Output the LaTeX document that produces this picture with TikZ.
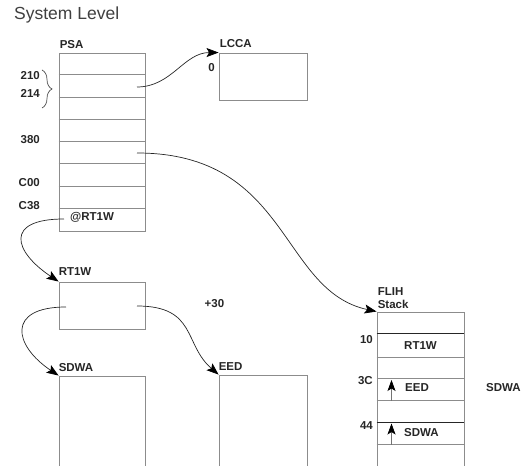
\documentclass[tikz,border=0pt]{standalone}
\usepackage{fontspec}
\setmainfont{Liberation Sans}
\usetikzlibrary{positioning, arrows.meta, decorations.pathreplacing}
\definecolor{rulegray}{RGB}{140,140,140}
\newcommand{\lblfont}{\fontsize{11.5}{13}\selectfont\bfseries}
\tikzset{
    memarea/.style={draw=rulegray, line width=0.9pt, inner sep=0pt, minimum width=86pt},
    memrule/.style={draw=rulegray, line width=0.9pt},
    darkrule/.style={draw=black!85, line width=0.9pt},
    lbl/.style={font=\lblfont, text=black!85, inner sep=0pt},
    ptr/.style={draw=black!85, line width=0.7pt, -{Stealth[length=12pt, width=9pt, inset=2.5pt, color=black]}},
    uparrow/.style={draw=black!55, line width=0.7pt, -{Stealth[length=11pt, width=8pt, inset=2.5pt, color=black]}}
}

\begin{document}
\begin{tikzpicture}[x=1pt, y=1pt]
    \clip (0,0) rectangle (523,466);
    % title
    \node[anchor=base west, inner sep=0pt, font=\fontsize{17.5}{20}\selectfont, text=black!75] (title) at (14,446.5) {System Level};

    % PSA
    \node[memarea, minimum height=178pt] (psa) at (102,324) {};
    \foreach \k in {1,...,7}
        \draw[memrule] ([yshift=-\k*22.25pt]psa.north west) -- ([yshift=-\k*22.25pt]psa.north east);
    \node[lbl, above right=4pt and 1pt of psa.north west] (psaname) {PSA};
    \node[lbl, anchor=east] (off210) at (40,390) {210};
    \node[lbl, anchor=east] (off214) at (40,373) {214};
    \node[lbl, anchor=east] (off380) at (40,326) {380};
    \node[lbl, anchor=east] (offC00) at (40,283) {C00};
    \node[lbl, anchor=east] (offC38) at (40,260) {C38};
    \node[lbl, anchor=west] (atrt1w) at (70,248.5) {@RT1W};
    \draw[draw=black!70, line width=0.7pt, decorate, decoration={brace, amplitude=10pt}] (42,396) -- (42,358);

    % LCCA
    \node[memarea, minimum width=88pt, minimum height=47pt] (lcca) at (263,389.5) {};
    \node[lbl, above right=5pt and 1pt of lcca.north west] (lccaname) {LCCA};
    \node[lbl, anchor=east] (off0) at (215,398.5) {0};

    % RT1W
    \node[memarea, minimum height=47pt] (rt1w) at (102,160.5) {};
    \node[lbl, above right=6pt and 0pt of rt1w.north west] (rt1wname) {RT1W};
    \node[lbl] (plus30) at (214.5,162) {+30};

    % SDWA and EED, open at the bottom
    \node[memarea, minimum height=100pt] (sdwa) at (102,40) {};
    \node[lbl, above right=4pt and 0pt of sdwa.north west] (sdwaname) {SDWA};
    \node[memarea, minimum width=88pt, minimum height=100pt] (eed) at (263,41) {};
    \node[lbl, above right=4pt and 0pt of eed.north west] (eedname) {EED};

    % FLIH stack
    \node[memarea, minimum width=87pt, minimum height=164pt] (flih) at (420.5,72) {};
    \foreach \d/\sty in {22pt/darkrule, 46pt/memrule, 67pt/memrule, 89pt/memrule, 111pt/darkrule, 133pt/memrule}
        \draw[\sty] ([yshift=-\d]flih.north west) -- ([yshift=-\d]flih.north east);
    \node[lbl, align=left, above right=3pt and 1pt of flih.north west] (flihname) {FLIH\\Stack};
    \node[lbl, anchor=east] (off10) at (373,126) {10};
    \node[lbl, anchor=east] (off3C) at (373,85) {3C};
    \node[lbl, anchor=east] (off44) at (373,40.5) {44};
    \node[lbl] (stackrt1w) at (420.5,120) {RT1W};
    \node[lbl, anchor=west] (stackeed) at (405,78) {EED};
    \node[lbl, anchor=west] (stacksdwa) at (404,33.5) {SDWA};
    \node[lbl, anchor=west] (sidesdwa) at (486,78) {SDWA};
    \coordinate (eedbase) at (391.5,65);
    \coordinate (eedtip) at (391.5,86);
    \coordinate (sdwabase) at (391.5,21);
    \coordinate (sdwatip) at (391.5,42.5);
    \draw[uparrow] (eedbase) -- (eedtip);
    \draw[uparrow] (sdwabase) -- (sdwatip);

    % pointers
    \coordinate (psa214) at (137,379);
    \coordinate (psa380) at (137,313);
    \coordinate (psart1w) at (64,247);
    \coordinate (rt1wleft) at (66,159);
    \coordinate (rt1wright) at (137,160);
    \draw[ptr] (psa214) to[out=0, in=180] (lcca.north west);
    \draw[ptr] (psa380) .. controls +(153,0) and +(-97,21) .. (flih.north west);
    \draw[ptr] (psart1w) .. controls +(-60,0) and +(-45,30) .. (rt1w.north west);
    \draw[ptr] (rt1wleft) .. controls +(-60,0) and +(-45,30) .. (sdwa.north west);
    \draw[ptr] (rt1wright) .. controls +(60,0) and +(-35,30) .. (eed.north west);
\end{tikzpicture}
\end{document}
